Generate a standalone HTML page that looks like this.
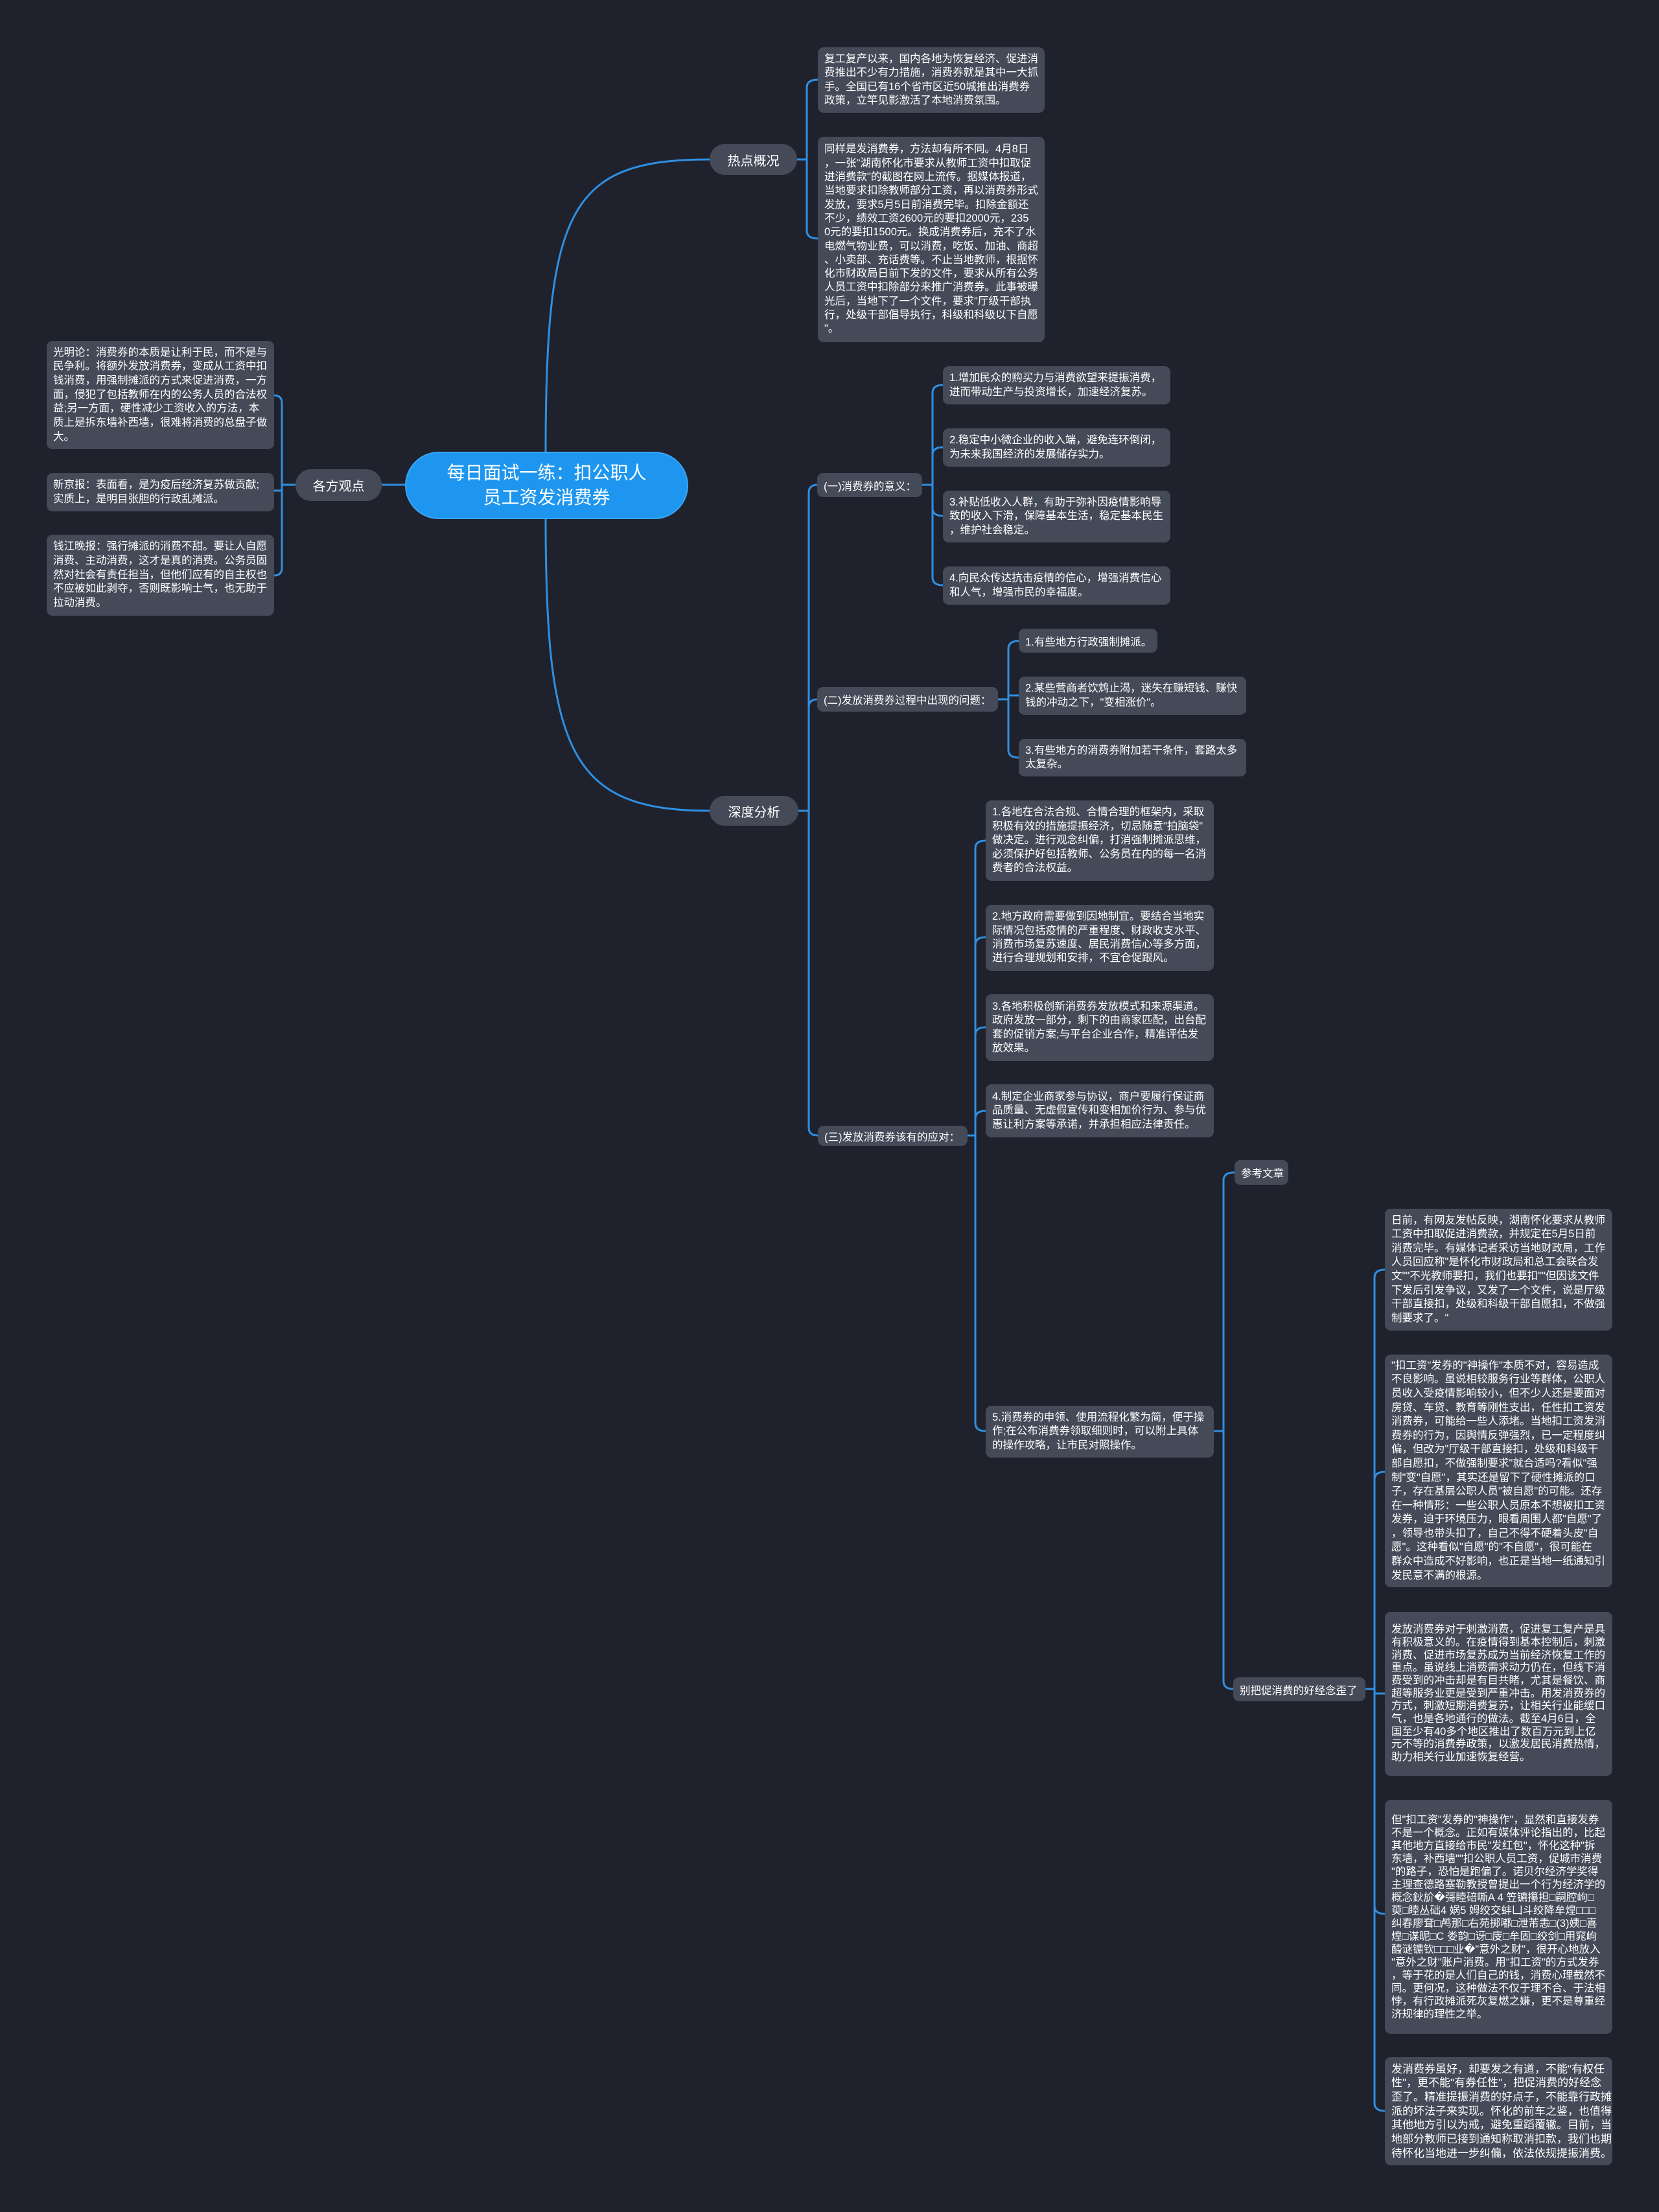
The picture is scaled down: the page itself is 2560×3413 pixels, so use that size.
<!DOCTYPE html>
<html><head><meta charset="utf-8">
<style>
html,body{margin:0;padding:0;}
body{width:2560px;height:3413px;background:#1f222d;position:relative;overflow:hidden;
font-family:"Liberation Sans","Noto Sans CJK SC",sans-serif;color:#fff;}
.b{position:absolute;background:#454a59;border-radius:9px;box-sizing:border-box;padding:0 10px;
display:flex;flex-direction:column;justify-content:center;font-size:16.5px;white-space:nowrap;}
.n{position:absolute;background:#454a59;box-sizing:border-box;display:flex;align-items:center;justify-content:center;white-space:nowrap;}
svg{position:absolute;left:0;top:0;}
</style></head><body>
<svg width="2560" height="3413" fill="none" stroke="#2f8fe2" stroke-width="3">
<path d="M842 697 C842 320 880 246 1095 246"/>
<path d="M842 800 C842 1160 880 1251 1095 1251"/>
<path d="M625 748 H589"/>
<path d="M456 748 H435 M435 748 V622 Q435 610 423 610 M435 748 V757 M435 748 V876 Q435 888 423 888 M435 757 H423"/>
<path d="M1230 246 H1245 M1245 246 V135 Q1245 123 1262 123 M1245 246 V356 Q1245 368 1262 368"/>
<path d="M1232 1251 H1248 M1248 1251 V760 Q1248 748 1262 748 M1248 1251 V1091 Q1248 1079 1262 1079 M1248 1251 V1740 Q1248 1752 1262 1752"/>
<path d="M1423 748 H1439 M1439 748 V606 Q1439 594 1455 594 M1439 748 V702 Q1439 690 1455 690 M1439 748 V784 Q1439 796 1455 796 M1439 748 V891 Q1439 903 1455 903"/>
<path d="M1540 1079 H1556 M1556 1079 V1001 Q1556 989 1572 989 M1556 1079 V1073 H1572 M1556 1079 V1157 Q1556 1169 1572 1169"/>
<path d="M1493 1752 H1505 M1505 1752 V1309 Q1505 1297 1521 1297 M1505 1752 V1458 Q1505 1446 1521 1446 M1505 1752 V1597 Q1505 1585 1521 1585 M1505 1752 V1726 Q1505 1714 1521 1714 M1505 1752 V2196 Q1505 2208 1521 2208"/>
<path d="M1873 2208 H1888 M1888 2208 V1821 Q1888 1809 1905 1809 M1888 2208 V2594 Q1888 2606 1903 2606"/>
<path d="M2107 2606 H2121 M2121 2606 V1971 Q2121 1959 2137 1959 M2121 2606 V2283 Q2121 2271 2137 2271 M2121 2606 V2613 H2137 M2121 2606 V2941 Q2121 2953 2137 2953 M2121 2606 V3245 Q2121 3257 2137 3257"/>
</svg>

<div class="n" style="left:625px;top:697px;width:437px;height:104px;background:#1e96ef;border-radius:52px;border:2px solid #3aa6f5;font-size:28px;line-height:38px;text-align:center;flex-direction:column;">每日面试一练：扣公职人<br>员工资发消费券</div>

<div class="n" style="left:1095px;top:222px;width:135px;height:48px;border-radius:24px;font-size:20px;">热点概况</div>
<div class="n" style="left:1095px;top:1228px;width:137px;height:46px;border-radius:23px;font-size:20px;">深度分析</div>
<div class="n" style="left:456px;top:724px;width:133px;height:49px;border-radius:24px;font-size:20px;">各方观点</div>

<div class="b" style="left:1262px;top:73px;width:350px;height:101px;line-height:21.3px;">复工复产以来，国内各地为恢复经济、促进消<br>费推出不少有力措施，消费券就是其中一大抓<br>手。全国已有16个省市区近50城推出消费券<br>政策，立竿见影激活了本地消费氛围。</div>
<div class="b" style="left:1262px;top:211px;width:350px;height:317px;line-height:21.3px;">同样是发消费券，方法却有所不同。4月8日<br>，一张"湖南怀化市要求从教师工资中扣取促<br>进消费款"的截图在网上流传。据媒体报道，<br>当地要求扣除教师部分工资，再以消费券形式<br>发放，要求5月5日前消费完毕。扣除金额还<br>不少，绩效工资2600元的要扣2000元，235<br>0元的要扣1500元。换成消费券后，充不了水<br>电燃气物业费，可以消费，吃饭、加油、商超<br>、小卖部、充话费等。不止当地教师，根据怀<br>化市财政局日前下发的文件，要求从所有公务<br>人员工资中扣除部分来推广消费券。此事被曝<br>光后，当地下了一个文件，要求"厅级干部执<br>行，处级干部倡导执行，科级和科级以下自愿<br>"。</div>

<div class="b" style="left:72px;top:526px;width:351px;height:167px;line-height:21.7px;">光明论：消费券的本质是让利于民，而不是与<br>民争利。将额外发放消费券，变成从工资中扣<br>钱消费，用强制摊派的方式来促进消费，一方<br>面，侵犯了包括教师在内的公务人员的合法权<br>益;另一方面，硬性减少工资收入的方法，本<br>质上是拆东墙补西墙，很难将消费的总盘子做<br>大。</div>
<div class="b" style="left:72px;top:730px;width:351px;height:59px;line-height:21.7px;">新京报：表面看，是为疫后经济复苏做贡献;<br>实质上，是明目张胆的行政乱摊派。</div>
<div class="b" style="left:72px;top:825px;width:351px;height:125px;line-height:21.7px;">钱江晚报：强行摊派的消费不甜。要让人自愿<br>消费、主动消费，这才是真的消费。公务员固<br>然对社会有责任担当，但他们应有的自主权也<br>不应被如此剥夺，否则既影响士气，也无助于<br>拉动消费。</div>

<div class="b" style="left:1261px;top:730px;width:162px;height:37px;">(一)消费券的意义：</div>
<div class="b" style="left:1455px;top:565px;width:351px;height:59px;line-height:21.5px;">1.增加民众的购买力与消费欲望来提振消费，<br>进而带动生产与投资增长，加速经济复苏。</div>
<div class="b" style="left:1455px;top:661px;width:351px;height:59px;line-height:21.5px;">2.稳定中小微企业的收入端，避免连环倒闭，<br>为未来我国经济的发展储存实力。</div>
<div class="b" style="left:1455px;top:757px;width:351px;height:80px;line-height:21.5px;">3.补贴低收入人群，有助于弥补因疫情影响导<br>致的收入下滑，保障基本生活，稳定基本民生<br>，维护社会稳定。</div>
<div class="b" style="left:1455px;top:874px;width:351px;height:59px;line-height:21.5px;">4.向民众传达抗击疫情的信心，增强消费信心<br>和人气，增强市民的幸福度。</div>

<div class="b" style="left:1261px;top:1060px;width:279px;height:38px;">(二)发放消费券过程中出现的问题：</div>
<div class="b" style="left:1572px;top:970px;width:214px;height:37px;">1.有些地方行政强制摊派。</div>
<div class="b" style="left:1572px;top:1044px;width:351px;height:59px;line-height:21.5px;">2.某些营商者饮鸩止渴，迷失在赚短钱、赚快<br>钱的冲动之下，"变相涨价"。</div>
<div class="b" style="left:1572px;top:1140px;width:351px;height:58px;line-height:21.5px;">3.有些地方的消费券附加若干条件，套路太多<br>太复杂。</div>

<div class="b" style="left:1262px;top:1737px;width:231px;height:31px;">(三)发放消费券该有的应对：</div>
<div class="b" style="left:1521px;top:1235px;width:352px;height:124px;line-height:21.4px;">1.各地在合法合规、合情合理的框架内，采取<br>积极有效的措施提振经济，切忌随意"拍脑袋"<br>做决定。进行观念纠偏，打消强制摊派思维，<br>必须保护好包括教师、公务员在内的每一名消<br>费者的合法权益。</div>
<div class="b" style="left:1521px;top:1396px;width:352px;height:102px;line-height:21.4px;">2.地方政府需要做到因地制宜。要结合当地实<br>际情况包括疫情的严重程度、财政收支水平、<br>消费市场复苏速度、居民消费信心等多方面，<br>进行合理规划和安排，不宜仓促跟风。</div>
<div class="b" style="left:1521px;top:1534px;width:352px;height:103px;line-height:21.4px;">3.各地积极创新消费券发放模式和来源渠道。<br>政府发放一部分，剩下的由商家匹配，出台配<br>套的促销方案;与平台企业合作，精准评估发<br>放效果。</div>
<div class="b" style="left:1521px;top:1673px;width:352px;height:82px;line-height:21.4px;">4.制定企业商家参与协议，商户要履行保证商<br>品质量、无虚假宣传和变相加价行为、参与优<br>惠让利方案等承诺，并承担相应法律责任。</div>
<div class="b" style="left:1521px;top:2169px;width:352px;height:80px;line-height:21.5px;">5.消费券的申领、使用流程化繁为简，便于操<br>作;在公布消费券领取细则时，可以附上具体<br>的操作攻略，让市民对照操作。</div>

<div class="b" style="left:1905px;top:1790px;width:83px;height:38px;">参考文章</div>
<div class="b" style="left:1903px;top:2588px;width:204px;height:37px;">别把促消费的好经念歪了</div>

<div class="b" style="left:2137px;top:1865px;width:351px;height:188px;line-height:21.6px;">日前，有网友发帖反映，湖南怀化要求从教师<br>工资中扣取促进消费款，并规定在5月5日前<br>消费完毕。有媒体记者采访当地财政局，工作<br>人员回应称"是怀化市财政局和总工会联合发<br>文""不光教师要扣，我们也要扣""但因该文件<br>下发后引发争议，又发了一个文件，说是厅级<br>干部直接扣，处级和科级干部自愿扣，不做强<br>制要求了。"</div>
<div class="b" style="left:2137px;top:2090px;width:351px;height:359px;line-height:21.6px;">"扣工资"发券的"神操作"本质不对，容易造成<br>不良影响。虽说相较服务行业等群体，公职人<br>员收入受疫情影响较小，但不少人还是要面对<br>房贷、车贷、教育等刚性支出，任性扣工资发<br>消费券，可能给一些人添堵。当地扣工资发消<br>费券的行为，因舆情反弹强烈，已一定程度纠<br>偏，但改为"厅级干部直接扣，处级和科级干<br>部自愿扣，不做强制要求"就合适吗?看似"强<br>制"变"自愿"，其实还是留下了硬性摊派的口<br>子，存在基层公职人员"被自愿"的可能。还存<br>在一种情形：一些公职人员原本不想被扣工资<br>发券，迫于环境压力，眼看周围人都"自愿"了<br>，领导也带头扣了，自己不得不硬着头皮"自<br>愿"。这种看似"自愿"的"不自愿"，很可能在<br>群众中造成不好影响，也正是当地一纸通知引<br>发民意不满的根源。</div>
<div class="b" style="left:2137px;top:2487px;width:351px;height:253px;line-height:19.7px;">发放消费券对于刺激消费，促进复工复产是具<br>有积极意义的。在疫情得到基本控制后，刺激<br>消费、促进市场复苏成为当前经济恢复工作的<br>重点。虽说线上消费需求动力仍在，但线下消<br>费受到的冲击却是有目共睹，尤其是餐饮、商<br>超等服务业更是受到严重冲击。用发消费券的<br>方式，刺激短期消费复苏，让相关行业能缓口<br>气，也是各地通行的做法。截至4月6日，全<br>国至少有40多个地区推出了数百万元到上亿<br>元不等的消费券政策，以激发居民消费热情，<br>助力相关行业加速恢复经营。</div>
<div class="b" style="left:2137px;top:2777px;width:351px;height:361px;line-height:20px;">但"扣工资"发券的"神操作"，显然和直接发券<br>不是一个概念。正如有媒体评论指出的，比起<br>其他地方直接给市民"发红包"，怀化这种"拆<br>东墙，补西墙""扣公职人员工资，促城市消费<br>"的路子，恐怕是跑偏了。诺贝尔经济学奖得<br>主理查德路塞勒教授曾提出一个行为经济学的<br>概念鈥斺�彁睦碚嘶A 4 笠镳攥担□嗣腔岣□<br>萸□睦丛础4 娲5 姆绞交蚌凵斗绞降牟煌□□□<br>纠春廖耷□鸬那□右苑掷嘟□泄芾恚□(3)姨□喜<br>煌□谋昵□C 娄韵□讶□庋□牟固□绞剑□用窕岣<br>醯谜镳钦□□□业�"意外之财"，很开心地放入<br>"意外之财"账户消费。用"扣工资"的方式发券<br>，等于花的是人们自己的钱，消费心理截然不<br>同。更何况，这种做法不仅于理不合、于法相<br>悖，有行政摊派死灰复燃之嫌，更不是尊重经<br>济规律的理性之举。</div>
<div class="b" style="left:2137px;top:3174px;width:351px;height:167px;line-height:21.7px;font-size:17px;">发消费券虽好，却要发之有道，不能"有权任<br>性"，更不能"有券任性"，把促消费的好经念<br>歪了。精准提振消费的好点子，不能靠行政摊<br>派的坏法子来实现。怀化的前车之鉴，也值得<br>其他地方引以为戒，避免重蹈覆辙。目前，当<br>地部分教师已接到通知称取消扣款，我们也期<br>待怀化当地进一步纠偏，依法依规提振消费。</div>
</body></html>
